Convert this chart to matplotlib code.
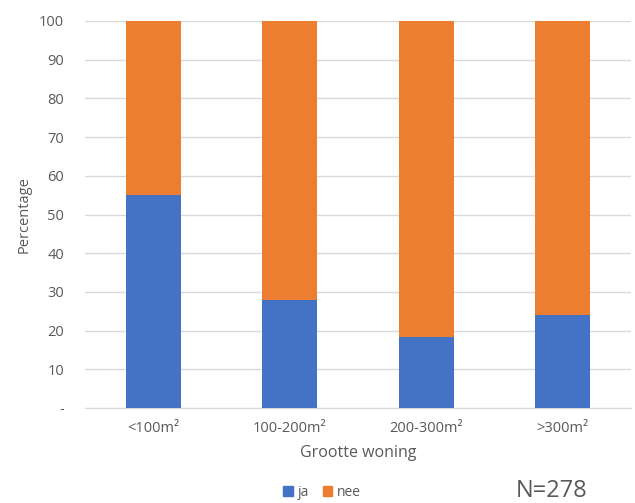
import matplotlib
matplotlib.use("Agg")
import matplotlib.pyplot as plt
from matplotlib.patches import Patch

categories = ["<100m²", "100-200m²", "200-300m²", ">300m²"]
ja = [55, 27.8, 18.3, 24]
nee = [100 - v for v in ja]
yticks = [0, 10, 20, 30, 40, 50, 60, 70, 80, 90, 100]
ytick_labels = ["-", "10", "20", "30", "40", "50", "60", "70", "80", "90", "100"]

blue = "#4472C4"
orange = "#ED7D31"
grey = "#595959"

plt.rcParams["font.family"] = ["Open Sans", "DejaVu Sans"]

fig = plt.figure(figsize=(6.35, 5.03), dpi=100)
ax = fig.add_axes([85 / 635, 95 / 503, 546 / 635, 387 / 503])

x = range(len(categories))
ax.bar(x, ja, width=0.4, color=blue, zorder=3)
ax.bar(x, nee, bottom=ja, width=0.4, color=orange, zorder=3)

ax.set_xlim(-0.5, len(categories) - 0.5)
ax.set_ylim(0, 100)
ax.set_yticks(yticks)
ax.set_yticklabels(ytick_labels)
ax.set_xticks(list(x))
ax.set_xticklabels(categories)
ax.grid(axis="y", color="#D9D9D9", linewidth=1, zorder=0)
for s in ["top", "right", "left"]:
    ax.spines[s].set_visible(False)
ax.spines["bottom"].set_color("#D9D9D9")
ax.tick_params(axis="both", length=0, colors=grey, labelsize=10.5)
ax.tick_params(axis="y", pad=15)
ax.tick_params(axis="x", pad=9)

ax.set_ylabel("Percentage", color=grey, fontsize=10.5, labelpad=5)
ax.set_xlabel("Grootte woning", color=grey, fontsize=11.5, labelpad=7)

handles = [Patch(color=blue, label="ja"), Patch(color=orange, label="nee")]
fig.legend(handles=handles, loc="center", bbox_to_anchor=(322 / 635, 1 - 492 / 503),
           ncol=2, frameon=False, fontsize=10, handlelength=0.7, handleheight=0.7,
           handletextpad=0.3, columnspacing=1.0, labelcolor=grey)

fig.text(552 / 635, 1 - 491 / 503, "N=278", ha="center", va="center",
         fontsize=17, color=grey)

fig.savefig("out.png", dpi=100)
